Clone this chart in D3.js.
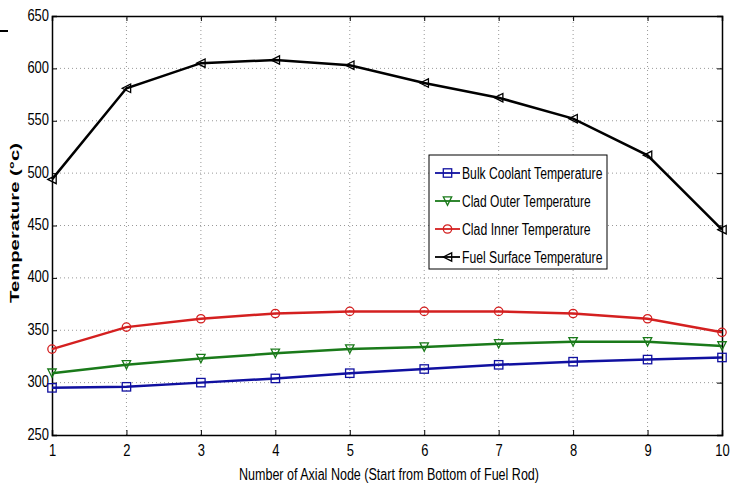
<!DOCTYPE html>
<html>
<head>
<meta charset="utf-8">
<script src="https://d3js.org/d3.v7.min.js"></script>
<style>
  body { margin: 0; background: #fff; }
  text { font-family: "Liberation Sans", Arial, sans-serif; }
</style>
</head>
<body>
<script>
// chart size
var width = 734;
var height = 490;

// data
var nodes = [1, 2, 3, 4, 5, 6, 7, 8, 9, 10];
var bulkCoolant = [295, 296, 300, 304, 309, 313, 317, 320, 322, 324];
var cladOuter = [309, 317, 323, 328, 332, 334, 337, 339, 339, 335];
var cladInner = [332, 353, 361, 366, 368, 368, 368, 366, 361, 348];
var fuelSurface = [494, 581, 605, 608, 603, 586, 572, 552, 517, 446];
var yTicks = [250, 300, 350, 400, 450, 500, 550, 600, 650];
var seriesNames = ['Bulk Coolant Temperature', 'Clad Outer Temperature', 'Clad Inner Temperature', 'Fuel Surface Temperature'];

var series = [
  { name: seriesNames[0], values: bulkCoolant, color: '#1010a0', marker: 'square' },
  { name: seriesNames[1], values: cladOuter, color: '#1a7a1a', marker: 'down' },
  { name: seriesNames[2], values: cladInner, color: '#d42020', marker: 'circle' },
  { name: seriesNames[3], values: fuelSurface, color: '#000000', marker: 'left' }
];

var margin = { top: 16, right: 12, bottom: 55, left: 52 };

var svg = d3.select('body').append('svg')
  .attr('width', width)
  .attr('height', height);

var x = d3.scaleLinear().domain([1, 10]).range([margin.left, width - margin.right]);
var y = d3.scaleLinear().domain([250, 650]).range([height - margin.bottom, margin.top]);

// grid
svg.append('g').selectAll('line.vgrid')
  .data(nodes.slice(1, -1))
  .enter().append('line')
  .attr('x1', d => x(d)).attr('x2', d => x(d))
  .attr('y1', y(250)).attr('y2', y(650))
  .attr('stroke', '#999').attr('stroke-dasharray', '1,3');

svg.append('g').selectAll('line.hgrid')
  .data(yTicks.slice(1, -1))
  .enter().append('line')
  .attr('x1', x(1)).attr('x2', x(10))
  .attr('y1', d => y(d)).attr('y2', d => y(d))
  .attr('stroke', '#999').attr('stroke-dasharray', '1,3');

// axes
var xAxis = svg.append('g')
  .attr('transform', 'translate(0,' + y(250) + ')')
  .call(d3.axisBottom(x).tickValues(nodes).tickSize(-5).tickPadding(10).tickFormat(d3.format('d')));
var yAxis = svg.append('g')
  .attr('transform', 'translate(' + x(1) + ',0)')
  .call(d3.axisLeft(y).tickValues(yTicks).tickSize(-5).tickPadding(3));
var xTop = svg.append('g')
  .attr('transform', 'translate(0,' + y(650) + ')')
  .call(d3.axisTop(x).tickValues(nodes).tickSize(-5).tickFormat(''));
var yRight = svg.append('g')
  .attr('transform', 'translate(' + x(10) + ',0)')
  .call(d3.axisRight(y).tickValues(yTicks).tickSize(-5).tickFormat(''));

[xAxis, yAxis, xTop, yRight].forEach(function(a) {
  a.select('.domain').attr('stroke', '#000').attr('stroke-width', 1.5);
  a.selectAll('.tick line').attr('stroke', '#000');
});
// condensed tick labels like the original
[xAxis, yAxis].forEach(function(a) {
  a.selectAll('text')
    .attr('font-size', 16)
    .attr('fill', '#000')
    .attr('lengthAdjust', 'spacingAndGlyphs')
    .attr('textLength', function(d) { return String(d).length * 7.2; });
});
yAxis.selectAll('text').attr('dy', '0.25em');

// axis labels
svg.append('text')
  .attr('x', (x(1) + x(10)) / 2 + 2)
  .attr('y', 480)
  .attr('text-anchor', 'middle')
  .attr('font-size', 16)
  .attr('textLength', 300)
  .attr('lengthAdjust', 'spacingAndGlyphs')
  .text('Number of Axial Node (Start from Bottom of Fuel Rod)');

svg.append('text')
  .attr('transform', 'translate(19,223) rotate(-90)')
  .attr('text-anchor', 'middle')
  .attr('font-size', 13)
  .attr('font-weight', 'bold')
  .attr('textLength', 160)
  .attr('lengthAdjust', 'spacingAndGlyphs')
  .text('Temperature (°c)');

// small dash top-left
svg.append('line')
  .attr('x1', 0).attr('x2', 8).attr('y1', 31).attr('y2', 31)
  .attr('stroke', '#000').attr('stroke-width', 2);

var line = d3.line()
  .x((d, i) => x(nodes[i]))
  .y(d => y(d));

function drawMarker(g, type, cx, cy, color) {
  var s = 4.2;
  if (type === 'square') {
    g.append('rect').attr('x', cx - s).attr('y', cy - s).attr('width', 2 * s).attr('height', 2 * s)
      .attr('fill', 'none').attr('stroke', color).attr('stroke-width', 1.3);
  } else if (type === 'circle') {
    g.append('circle').attr('cx', cx).attr('cy', cy).attr('r', s)
      .attr('fill', 'none').attr('stroke', color).attr('stroke-width', 1.3);
  } else if (type === 'down') {
    g.append('path').attr('d', 'M' + (cx - s) + ',' + (cy - s) + 'L' + (cx + s) + ',' + (cy - s) + 'L' + cx + ',' + (cy + s) + 'Z')
      .attr('fill', 'none').attr('stroke', color).attr('stroke-width', 1.3);
  } else if (type === 'left') {
    g.append('path').attr('d', 'M' + (cx - s) + ',' + cy + 'L' + (cx + s) + ',' + (cy - s) + 'L' + (cx + s) + ',' + (cy + s) + 'Z')
      .attr('fill', 'none').attr('stroke', color).attr('stroke-width', 1.3);
  }
}

series.forEach(function(s) {
  svg.append('path')
    .datum(s.values)
    .attr('d', line)
    .attr('fill', 'none')
    .attr('stroke', s.color)
    .attr('stroke-width', 2.5);
  var g = svg.append('g');
  s.values.forEach(function(v, i) {
    drawMarker(g, s.marker, x(nodes[i]), y(v), s.color);
  });
});

// legend
var legend = svg.append('g').attr('transform', 'translate(429,155)');
legend.append('rect')
  .attr('width', 178).attr('height', 114)
  .attr('fill', '#fff').attr('stroke', '#000').attr('stroke-width', 1);
series.forEach(function(s, i) {
  var ly = 18 + i * 28;
  legend.append('line')
    .attr('x1', 6).attr('x2', 31).attr('y1', ly).attr('y2', ly)
    .attr('stroke', s.color).attr('stroke-width', 1.8);
  drawMarker(legend, s.marker, 18.5, ly, s.color);
  legend.append('text')
    .attr('x', 33).attr('y', ly + 6)
    .attr('font-size', 16)
    .attr('textLength', s.name.length * 5.85)
    .attr('lengthAdjust', 'spacingAndGlyphs')
    .text(s.name);
});
</script>
</body>
</html>
